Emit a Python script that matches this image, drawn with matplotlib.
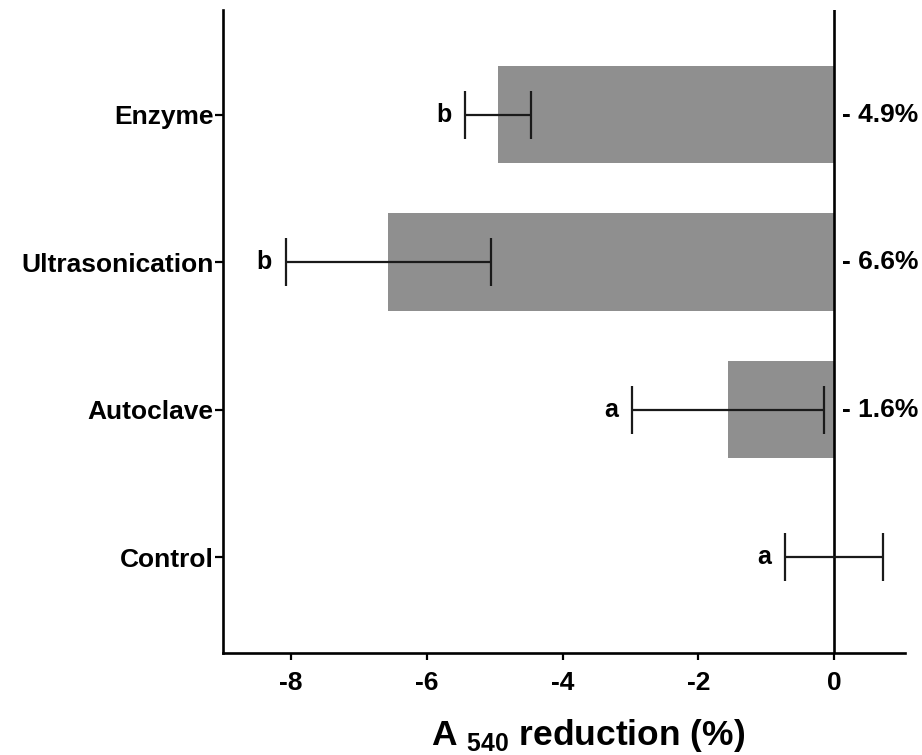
import matplotlib
matplotlib.use("Agg")
import matplotlib.pyplot as plt

plt.rcParams['font.family'] = ['Liberation Sans', 'DejaVu Sans']
plt.rcParams['font.weight'] = 'bold'
plt.rcParams['axes.unicode_minus'] = False
plt.rcParams['mathtext.fontset'] = 'custom'
plt.rcParams['mathtext.rm'] = 'Liberation Sans:bold'
plt.rcParams['mathtext.bf'] = 'Liberation Sans:bold'

# data (bottom to top)
groups = ['Control', 'Autoclave', 'Ultrasonication', 'Enzyme']
values = [0.0, -1.56, -6.57, -4.95]
errors = [0.72, 1.41, 1.51, 0.48]
letters = ['a', 'a', 'b', 'b']
pct_labels = ['', '- 1.6%', '- 6.6%', '- 4.9%']

fig = plt.figure(figsize=(9.22, 7.55), dpi=100)
ax = fig.add_axes([0.242, 0.135, 0.740, 0.852])

pos = list(range(len(groups)))
ax.barh(pos, values, height=0.66, color='#8f8f8f', zorder=1)
ax.errorbar(values, pos, xerr=errors, fmt='none', ecolor='#1a1a1a',
            elinewidth=1.6, capsize=17.5, capthick=1.6, zorder=3)
ax.axvline(0, color='black', lw=1.9, zorder=2)

for p, v, e, l in zip(pos, values, errors, letters):
    ax.annotate(l, (v - e, p), xytext=(-10, 0), textcoords='offset points',
                ha='right', va='center', fontsize=18, fontweight='bold')
for p, t in zip(pos, pct_labels):
    if t:
        ax.annotate(t, (0, p), xytext=(6, 0), textcoords='offset points',
                    ha='left', va='center', fontsize=19, fontweight='bold')

ax.set_xlim(-9, 1.05)
ax.set_ylim(-0.65, 3.71)
ax.set_xticks([-8, -6, -4, -2, 0])
ax.set_yticks(pos)
ax.set_yticklabels(groups)
ax.tick_params(axis='both', labelsize=19, width=1.6, length=5, pad=8)
ax.tick_params(axis='y', length=6, pad=1)
for lab in ax.get_xticklabels() + ax.get_yticklabels():
    lab.set_fontweight('bold')

ax.spines['top'].set_visible(False)
ax.spines['right'].set_visible(False)
ax.spines['left'].set_linewidth(1.9)
ax.spines['bottom'].set_linewidth(1.9)

ax.set_xlabel(r'A $_{540}$ reduction (%)', fontsize=25.5, fontweight='bold')
ax.xaxis.set_label_coords(0.535, -0.1)

fig.savefig('out.png', dpi=100)
